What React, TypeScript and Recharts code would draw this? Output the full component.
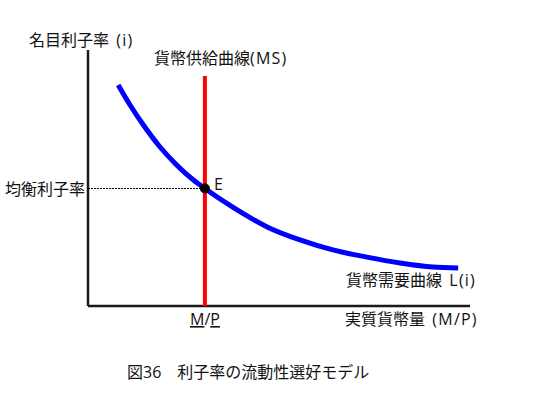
import { ComposedChart, Line, XAxis, YAxis, ReferenceLine, ReferenceDot, Customized } from 'recharts'

// 貨幣需要曲線 L(i)
const demandX = [7.9, 11.0, 14.5, 18.8, 23.2, 27.6, 30.6, 38.0, 46.9, 55.5, 64.1, 73.0, 81.7, 90.3, 96.9]
const demandY = [86.3, 78.5, 70.7, 62.2, 55.1, 49.2, 45.9, 38.5, 30.9, 25.8, 21.9, 19.1, 16.8, 15.2, 14.8]

// 貨幣供給曲線(MS)
const supplyX = [30.6, 30.6]
const supplyY = [0, 89.8]

const eqX = 30.6
const eqY = 45.9

const demand = demandX.map((x, i) => ({ x, y: demandY[i] }))
const supply = supplyX.map((x, i) => ({ x, y: supplyY[i] }))

const FONT = '"Open Sans", "Noto Sans CJK JP", sans-serif'
const wide = { letterSpacing: 1.2 }

const Labels = () => (
  <g fontFamily={FONT} fontSize={16} fill="#111">
    <text x={29} y={46}>名目利子率<tspan dx={2} style={wide}> (i)</tspan></text>
    <text x={154} y={64}>貨幣供給曲線<tspan style={wide}>(MS)</tspan></text>
    <text x={5} y={195}>均衡利子率</text>
    <text x={214} y={190}>E</text>
    <text x={190} y={325}>
      <tspan style={{ textDecoration: 'underline' }}>M</tspan>/<tspan style={{ textDecoration: 'underline' }}>P</tspan>
    </text>
    <text x={345} y={325}>実質貨幣量<tspan dx={2} style={wide}> (M/P)</tspan></text>
    <text x={346} y={286}>貨幣需要曲線<tspan dx={2} style={wide}> L(i)</tspan></text>
    <text x={127} y={378}>図36　利子率の流動性選好モデル</text>
  </g>
)

const App = () => (
  <div style={{ position: 'absolute', left: 0, top: 0, background: '#fff' }}>
    <ComposedChart width={559} height={397} margin={{ top: 50, right: 89, left: 88, bottom: 91 }}>
      <XAxis type="number" dataKey="x" domain={[0, 100]} hide />
      <YAxis type="number" dataKey="y" domain={[0, 100]} hide />
      <ReferenceLine segment={[{ x: 0, y: 0 }, { x: 100, y: 0 }]} stroke="#1a1a1a" strokeWidth={2.5} />
      <ReferenceLine segment={[{ x: 0, y: 0 }, { x: 0, y: 100 }]} stroke="#1a1a1a" strokeWidth={2.5} />
      <ReferenceLine
        segment={[{ x: 0, y: eqY }, { x: eqX, y: eqY }]}
        stroke="#000"
        strokeWidth={1}
        strokeDasharray="2 1"
      />
      <Line
        data={supply}
        dataKey="y"
        type="linear"
        stroke="#ff0000"
        strokeWidth={4}
        dot={false}
        isAnimationActive={false}
      />
      <Line
        data={demand}
        dataKey="y"
        type="monotone"
        stroke="#0000ff"
        strokeWidth={5}
        dot={false}
        isAnimationActive={false}
      />
      <ReferenceDot x={eqX} y={eqY} r={5} fill="#000" stroke="none" />
      <Customized component={Labels} />
    </ComposedChart>
  </div>
)

export default App
